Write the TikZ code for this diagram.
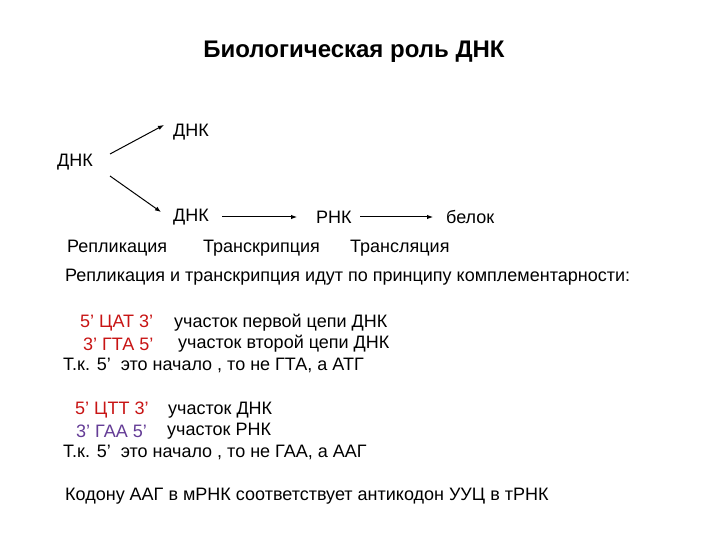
\documentclass[tikz,border=0pt]{standalone}
\usepackage{fontspec}
\usetikzlibrary{arrows.meta}
\setmainfont{Liberation Sans}
\begin{document}
\begin{tikzpicture}[x=1pt,y=-1pt,
  t/.style={anchor=west,inner sep=0pt,font=\fontsize{18}{20}\selectfont},
  ar/.style={-{Latex[length=6pt,width=4.5pt]},line width=1pt}]
\useasboundingbox[fill=white] (0,0) rectangle (720,540);
\node[font=\bfseries\fontsize{24}{28}\selectfont] (title) at (354,52) {Биологическая роль ДНК};
\node[t] (d1) at (173,132) {ДНК};
\node[t] (d0) at (57,162) {ДНК};
\node[t] (d2) at (173,217) {ДНК};
\node[t] (r) at (316,217) {РНК};
\node[t] (b) at (446,217) {белок};
\coordinate (s1) at (110,154); \coordinate (e1) at (164,125);
\coordinate (s2) at (110,176); \coordinate (e2) at (161,212);
\coordinate (s3) at (222,217); \coordinate (e3) at (297,217);
\coordinate (s4) at (360,217); \coordinate (e4) at (433,217);
\draw[ar] (s1) -- (e1);
\draw[ar] (s2) -- (e2);
\draw[ar] (s3) -- (e3);
\draw[ar] (s4) -- (e4);
\node[t] (l1) at (67,248) {Репликация};
\node[t] (l2) at (203,248) {Транскрипция};
\node[t] (l3) at (350,248) {Трансляция};
\node[t] (p) at (65,277) {Репликация и транскрипция идут по принципу комплементарности:};
\node[t,text={rgb,255:red,200;green,20;blue,20}] (a1) at (80,323) {5’ ЦАТ 3’};
\node[t] (a1t) at (174,323) {участок первой цепи ДНК};
\node[t,text={rgb,255:red,200;green,20;blue,20}] (a2) at (83,344) {3’ ГТА 5’};
\node[t] (a2t) at (178,344) {участок второй цепи ДНК};
\node[t] (a3) at (63,365) {Т.к. 5’\ \ это начало , то не ГТА, а АТГ};
\node[t,text={rgb,255:red,200;green,20;blue,20}] (c1) at (75,410) {5’ ЦТТ 3’};
\node[t] (c1t) at (168,410) {участок ДНК};
\node[t,text={rgb,255:red,100;green,60;blue,150}] (c2) at (76,431) {3’ ГАА 5’};
\node[t] (c2t) at (167,431) {участок РНК};
\node[t] (c3) at (63,452) {Т.к. 5’\ \ это начало , то не ГАА, а ААГ};
\node[t] (k) at (65,496) {Кодону ААГ в мРНК соответствует антикодон УУЦ в тРНК};
\end{tikzpicture}
\end{document}
